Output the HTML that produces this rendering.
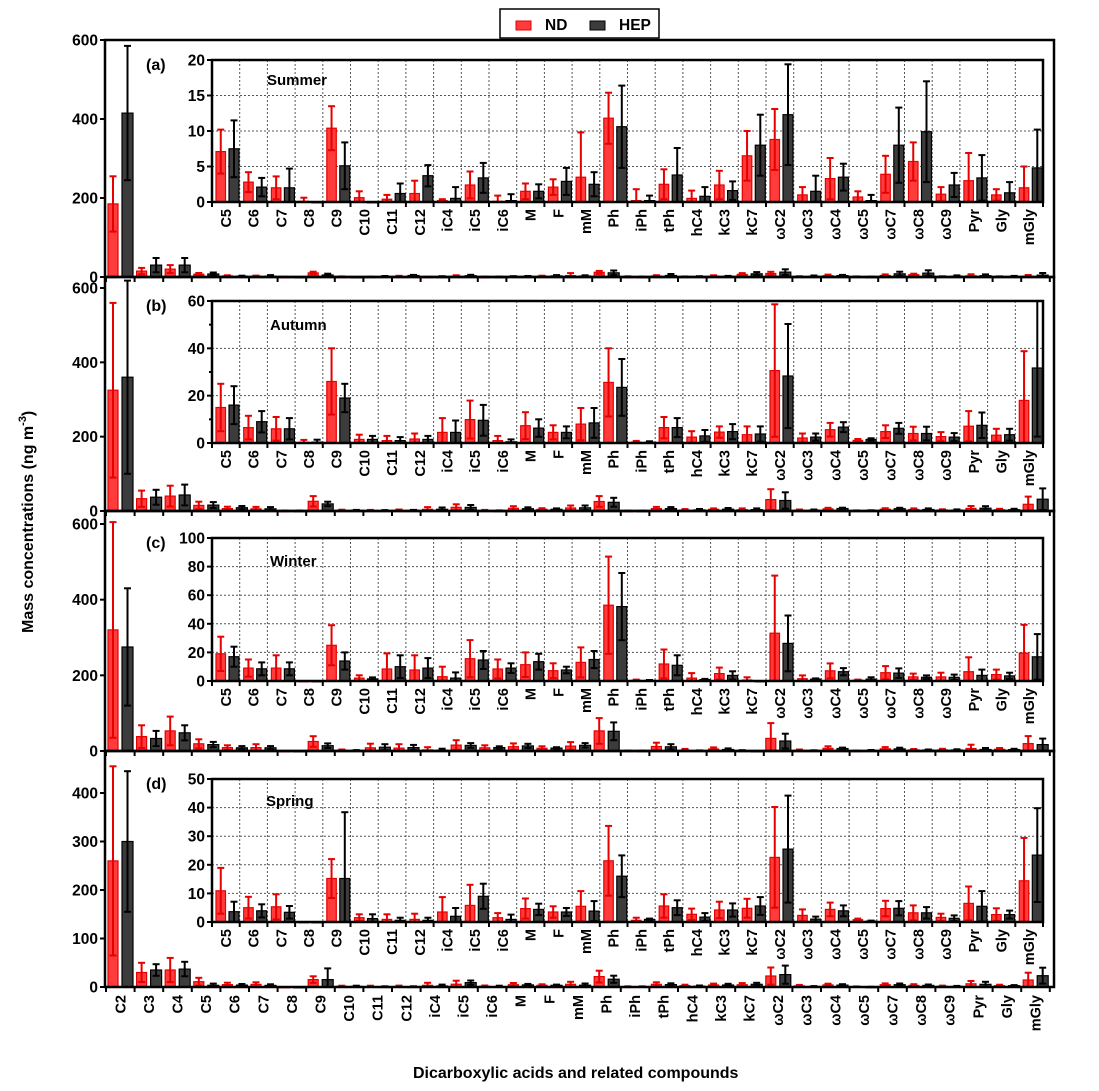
<!DOCTYPE html>
<html><head><meta charset="utf-8"><style>
html,body{margin:0;padding:0;background:#fff;}
svg{display:block;font-family:"Liberation Sans",Arial,sans-serif;font-weight:bold;}
</style></head><body>
<svg id="s" width="1099" height="1091" viewBox="0 0 1099 1091" xmlns="http://www.w3.org/2000/svg"></svg>
<script>
var S=document.getElementById('s');var out=[];
function a(x){out.push(x);}
var icats=["C5","C6","C7","C8","C9","C10","C11","C12","iC4","iC5","iC6","M","F","mM","Ph","iPh","tPh","hC4","kC3","kC7","ωC2","ωC3","ωC4","ωC5","ωC7","ωC8","ωC9","Pyr","Gly","mGly"];
var mcats=["C2","C3","C4"].concat(icats);
// [ndMean,ndErr,hepMean,hepErr]
var D={
su:[[7.1,3.1,7.5,4],[2.8,1.4,2.1,1.3],[2.0,1.6,2.0,2.7],[0.1,0.5,0,0],[10.4,3.1,5.1,3.3],[0.6,0.9,0,0],[0.4,0.6,1.2,1.4],[1.2,1.8,3.7,1.5],[0.2,0.2,0.5,1.6],[2.4,1.9,3.4,2.1],[0.1,0.8,0.2,0.9],[1.5,1.1,1.5,1.0],[2.1,1.1,2.9,1.9],[3.5,6.3,2.5,1.7],[11.8,3.6,10.6,5.8],[0.2,1.6,0.2,0.7],[2.5,2.1,3.8,3.8],[0.5,1.1,0.8,1.3],[2.4,2.0,1.6,1.3],[6.5,3.5,8.0,4.3],[8.8,4.3,12.3,7.1],[1.0,1.1,1.5,2.2],[3.3,2.9,3.5,1.9],[0.7,0.8,0.2,0.8],[3.9,2.6,8.0,5.3],[5.7,2.7,9.9,7.1],[1.1,1.0,2.4,1.7],[3.0,3.9,3.4,3.2],[1.0,0.8,1.3,1.5],[2.0,3.0,4.8,5.4]],
au:[[15,10,16,8],[6.5,5,9,4.5],[6,5,6,4.5],[0.3,1,0.4,1],[26,14,19,6],[1.5,2,1.5,1.5],[1,2,1,1.5],[1.7,2.3,1.5,1.5],[4.5,6,4.5,5],[9.9,8,9.6,6.5],[1,2,0.5,1],[7.3,5.7,6.3,3.7],[4.5,3,4.5,2.5],[8,6.8,8.5,6.3],[25.6,14.4,23.5,12],[0.4,0.5,0.3,0.4],[6.5,4.5,6.5,4],[2.5,2.5,3,2.5],[4.6,2.4,4.8,3.2],[3.5,3.5,3.8,3.2],[30.6,28,28.3,22],[2.1,1.9,2.5,1.5],[5.6,2.9,6.7,2.1],[1.1,0.6,1.5,0.5],[4.8,2.7,6.2,2.3],[4,2.9,4,2.9],[2.7,1.9,2.5,1.7],[7.1,6.4,7.5,5.4],[3.3,2.7,3.5,2.5],[18,20.8,31.7,29]],
wi:[[19,12,17,7],[9,6,8.5,4.5],[9,9,8.5,4.5],[0,0,0,0],[25,14,14,6],[2,2,1.5,1],[8.4,10.9,10,8],[7.7,10.3,9,7],[3,7,2,4],[15.6,13,14.7,6.3],[8.4,6.6,9,3.4],[11.4,8.6,13.5,5.5],[7.2,5.2,7.7,2.3],[13,10.5,15,6],[53,34,52,23.5],[0.5,0.5,0.4,0.3],[11.9,10.1,11,7],[2,3.5,1,0.5],[5.2,4.2,3.9,2.9],[0.7,1.9,0,0],[33.4,40.3,26.3,19.5],[1.6,2.3,1.3,0.5],[7.1,5.2,6.5,2.5],[0.6,0.4,1.3,1.3],[5.8,4.6,5.5,3.3],[2.9,2.3,2.6,1.3],[2.9,2.9,2.6,1.9],[6.5,10.1,3.9,4.1],[4.5,3.5,3.6,2.2],[19.5,19.8,16.9,15.9]],
sp:[[10.9,8,3.6,3.5],[5,3.8,3.9,2.3],[5.3,4.4,3.4,2.2],[0,0,0,0],[15.2,6.8,15.2,23.2],[1.5,1.2,1.2,1.5],[0.9,1.8,0.6,0.9],[0.9,2,0.6,0.9],[3.5,5.2,2,2.9],[5.8,7.2,9,4.4],[1.5,1.6,0.9,1.7],[4.7,3.5,4.4,2],[3.5,2,3.5,1.4],[5.5,5.3,3.8,3.5],[21.4,12.2,16,7.3],[0.6,0.9,0.9,0.3],[5.6,4.1,5,2.6],[2.7,2,1.7,1.4],[4.2,2.9,4.2,2.3],[4.8,3.3,5.6,3.1],[22.6,17.6,25.5,18.7],[2.3,2.1,1,0.9],[4.4,2.4,3.9,1.9],[0.8,0.4,0.3,0.2],[4.7,2.7,4.8,2.5],[3.2,2.6,3.2,2],[1.6,1.3,1.3,1],[6.5,5.9,5.5,5.3],[2.6,2.2,2.6,1.4],[14.4,15,23.4,16.4]]};
var M3={su:[[185,70,415,170],[15,8,30,18],[20,10,30,18]],au:[[325,235,360,260],[33,22,37,20],[40,28,43,28]],wi:[[320,285,275,155],[38,30,33,20],[53,38,48,20]],sp:[[260,195,300,145],[30,20,35,12],[35,25,37,15]]};
var P=[
 {k:'su',top:40,y0:277,mmax:600,mt:[0,200,400,600],it:60,iy0:202,imax:20,itk:[0,5,10,15,20],imn:[],lab:'(a)',ttl:'Summer',tx:267,ty:85},
 {k:'au',top:277,y0:511,mmax:600,mt:[0,200,400,600],m600y:288,it:301,iy0:443,imax:60,itk:[0,20,40,60],imn:[10,30,50],lab:'(b)',ttl:'Autumn',tx:270,ty:330},
 {k:'wi',top:511,y0:751,mmax:600,mt:[0,200,400,600],m600y:524,it:538,iy0:681,imax:100,itk:[0,20,40,60,80,100],imn:[],lab:'(c)',ttl:'Winter',tx:270,ty:566},
 {k:'sp',top:751,y0:987,mmax:400,mt:[0,100,200,300,400],m600y:793,it:779,iy0:922,imax:50,itk:[0,10,20,30,40,50],imn:[],lab:'(d)',ttl:'Spring',tx:266,ty:806}];
var L=105,R=1054,MW=28.6,IL=212,IW=27.7,IR=IL+30*IW;
function bar(x,w,yb,h,col,stroke){a('<rect x="'+x.toFixed(1)+'" y="'+(yb-h).toFixed(1)+'" width="'+w+'" height="'+Math.max(h,0.8).toFixed(1)+'" fill="'+col+'" stroke="'+stroke+'" stroke-width="1.2"/>');}
function err(cx,yb,m,e,sc,col,ytop){var yt=yb-(m+e)*sc,yl=yb-Math.max(m-e,0)*sc;if(yt<ytop)yt=ytop;if(e<=0)return;
 a('<line x1="'+cx+'" x2="'+cx+'" y1="'+yt.toFixed(1)+'" y2="'+yl.toFixed(1)+'" stroke="'+col+'" stroke-width="2"/>');
 a('<line x1="'+(cx-3.5)+'" x2="'+(cx+3.5)+'" y1="'+yt.toFixed(1)+'" y2="'+yt.toFixed(1)+'" stroke="'+col+'" stroke-width="2"/>');
 if(m-e>0)a('<line x1="'+(cx-3.5)+'" x2="'+(cx+3.5)+'" y1="'+yl.toFixed(1)+'" y2="'+yl.toFixed(1)+'" stroke="'+col+'" stroke-width="2"/>');}
var RF='#ff3b3b',RS='#e60000',KF='#3c3c3c',KS='#000';
P.forEach(function(p,pi){
 var top600=(pi==0)?40:p.m600y;var sc=(p.y0-top600)/p.mmax;
 var vals=M3[p.k].concat(D[p.k]);
 // main bars
 vals.forEach(function(v,i){var x0=L+1+i*MW;
  bar(x0+2,10,p.y0,v[0]*sc,RF,RS);bar(x0+16,11,p.y0,v[2]*sc,KF,KS);
  err(x0+7,p.y0,v[0],v[1],sc,'#e60000',p.top+2);err(x0+21.5,p.y0,v[2],v[3],sc,'#000',p.top+2);});
 // main frame
 a('<rect x="'+L+'" y="'+p.top+'" width="'+(R-L)+'" height="'+(p.y0-p.top)+'" fill="none" stroke="#000" stroke-width="2.5"/>');
 for(var i=0;i<=33;i++){var x=L+1+i*MW;a('<line x1="'+x+'" x2="'+x+'" y1="'+p.y0+'" y2="'+(p.y0+5)+'" stroke="#000" stroke-width="2"/>');}
 p.mt.forEach(function(t){var y=p.y0-t*sc;a('<line x1="'+(L-5)+'" x2="'+L+'" y1="'+y+'" y2="'+y+'" stroke="#000" stroke-width="2"/>');
  a('<text x="'+(L-7)+'" y="'+(y+5.5)+'" font-size="15.5" text-anchor="end">'+t+'</text>');});
 // inset
 var isc=(p.iy0-p.it)/p.imax;
 a('<rect x="'+IL+'" y="'+p.it+'" width="'+(IR-IL)+'" height="'+(p.iy0-p.it)+'" fill="#fff"/>');
 for(var i=1;i<30;i++){var x=IL+i*IW;a('<line x1="'+x+'" x2="'+x+'" y1="'+p.it+'" y2="'+p.iy0+'" stroke="#555" stroke-width="1" stroke-dasharray="2,2"/>');}
 p.itk.forEach(function(t){if(t==0||t==p.imax)return;var y=p.iy0-t*isc;a('<line x1="'+IL+'" x2="'+IR+'" y1="'+y+'" y2="'+y+'" stroke="#555" stroke-width="1" stroke-dasharray="2,2"/>');});
 D[p.k].forEach(function(v,i){var x0=IL+i*IW;
  bar(x0+4,9.5,p.iy0,v[0]*isc,RF,RS);bar(x0+17,10,p.iy0,v[2]*isc,KF,KS);
  err(x0+8.75,p.iy0,v[0],v[1],isc,'#e60000',p.it);err(x0+22,p.iy0,v[2],v[3],isc,'#000',p.it);});
 a('<rect x="'+IL+'" y="'+p.it+'" width="'+(IR-IL)+'" height="'+(p.iy0-p.it)+'" fill="none" stroke="#000" stroke-width="2.5"/>');
 for(var i=0;i<=30;i++){var x=IL+i*IW;a('<line x1="'+x+'" x2="'+x+'" y1="'+p.iy0+'" y2="'+(p.iy0+5)+'" stroke="#000" stroke-width="2"/>');}
 p.itk.forEach(function(t){var y=p.iy0-t*isc;a('<line x1="'+(IL-5)+'" x2="'+IL+'" y1="'+y+'" y2="'+y+'" stroke="#000" stroke-width="2"/>');
  a('<text x="'+(IL-7)+'" y="'+(y+5.5)+'" font-size="15.5" text-anchor="end">'+t+'</text>');});
 p.imn.forEach(function(t){var y=p.iy0-t*isc;a('<line x1="'+(IL-3)+'" x2="'+IL+'" y1="'+y+'" y2="'+y+'" stroke="#000" stroke-width="2"/>');});
 icats.forEach(function(c,i){var cx=IL+i*IW+IW/2+5;var y=p.iy0+7;
  a('<text transform="translate('+cx.toFixed(1)+','+y+') rotate(-90)" font-size="14.5" text-anchor="end">'+c+'</text>');});
 a('<text x="146" y="'+(p.it+10)+'" font-size="16">'+p.lab+'</text>');
 a('<text x="'+p.tx+'" y="'+p.ty+'" font-size="15">'+p.ttl+'</text>');
});
mcats.forEach(function(c,i){var cx=L+1+i*MW+MW/2+5;
 a('<text transform="translate('+cx.toFixed(1)+',995) rotate(-90)" font-size="14.5" text-anchor="end">'+c+'</text>');});
// legend
a('<rect x="500" y="9" width="159" height="29" fill="#fff" stroke="#000" stroke-width="1.5"/>');
a('<rect x="516" y="21" width="15" height="9" fill="'+RF+'" stroke="'+RS+'"/>');
a('<text x="545" y="30" font-size="15.5">ND</text>');
a('<rect x="590" y="21" width="15" height="9" fill="'+KF+'" stroke="#000"/>');
a('<text x="619" y="30" font-size="15.5">HEP</text>');
a('<text transform="translate(33,633) rotate(-90)" font-size="16">Mass concentrations (ng m<tspan dy="-7" font-size="11">-3</tspan><tspan dy="7">)</tspan></text>');
a('<text x="413" y="1078" font-size="16">Dicarboxylic acids and related compounds</text>');
S.innerHTML=out.join('');
</script>
</body></html>
